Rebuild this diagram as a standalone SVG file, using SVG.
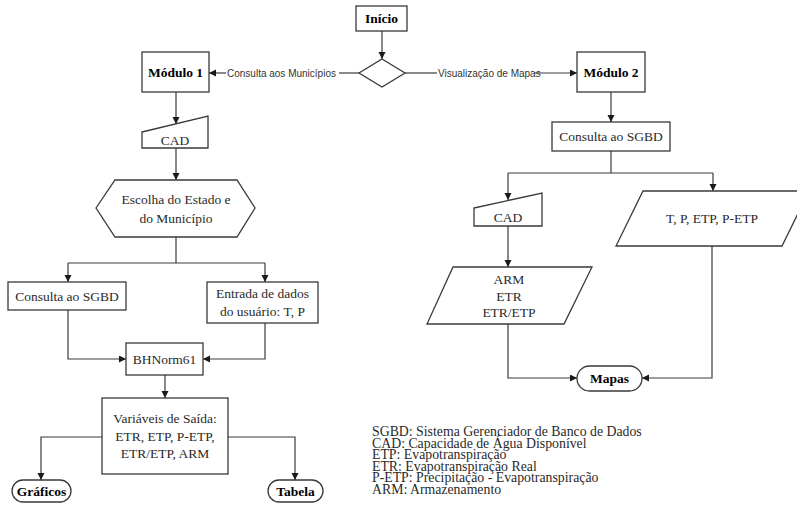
<svg xmlns="http://www.w3.org/2000/svg" width="797" height="524" viewBox="0 0 797 524">
<defs>
<marker id="arr" markerUnits="userSpaceOnUse" markerWidth="8" markerHeight="8" refX="7" refY="3.5" orient="auto">
<path d="M0,0 L7,3.5 L0,7 Z" fill="#1a1a1a"/>
</marker>
<style>
.s{fill:#fff;stroke:#3a3a3a;stroke-width:1.3}
.c{fill:none;stroke:#3a3a3a;stroke-width:1.2}
.t{font-family:"Liberation Serif","Times New Roman",serif;font-size:13.5px;fill:#2a2a2a;text-anchor:middle}
.b{font-family:"Liberation Serif","Times New Roman",serif;font-size:13.5px;font-weight:bold;fill:#000;text-anchor:middle}
.l{font-family:"Liberation Sans",Arial,sans-serif;font-size:10px;fill:#333}
.g{font-family:"Liberation Serif","Times New Roman",serif;font-size:13.8px;fill:#2a2a2a}
</style>
</defs>
<rect width="797" height="524" fill="#fff"/>
<g id="connectors">
<path class="c" d="M382,31 V59" marker-end="url(#arr)"/>
<path class="c" d="M359,73 H339"/>
<path class="c" d="M226,73 H209" marker-end="url(#arr)"/>
<path class="c" d="M405,73 H437"/>
<path class="c" d="M534,73 H577" marker-end="url(#arr)"/>
<text class="l" x="227" y="76.5">Consulta aos Municípios</text>
<text class="l" x="438" y="76.5">Visualização de Mapas</text>
<path class="c" d="M176,92 V124" marker-end="url(#arr)"/>
<path class="c" d="M176,148 V180" marker-end="url(#arr)"/>
<path class="c" d="M176,237 V263"/>
<path class="c" d="M68,263 H265"/>
<path class="c" d="M68,263 V282" marker-end="url(#arr)"/>
<path class="c" d="M265,263 V282" marker-end="url(#arr)"/>
<path class="c" d="M68,310 V359 H126" marker-end="url(#arr)"/>
<path class="c" d="M265,323 V359 H203" marker-end="url(#arr)"/>
<path class="c" d="M165,375 V398" marker-end="url(#arr)"/>
<path class="c" d="M102,437 H41 V480" marker-end="url(#arr)"/>
<path class="c" d="M228,437 H295 V480" marker-end="url(#arr)"/>
<path class="c" d="M611,92 V122" marker-end="url(#arr)"/>
<path class="c" d="M611,151 V173"/>
<path class="c" d="M508,173 H713"/>
<path class="c" d="M508,173 V200" marker-end="url(#arr)"/>
<path class="c" d="M713,173 V191" marker-end="url(#arr)"/>
<path class="c" d="M508,226 V267" marker-end="url(#arr)"/>
<path class="c" d="M508,324 V378 H577" marker-end="url(#arr)"/>
<path class="c" d="M712,246 V378 H642" marker-end="url(#arr)"/>
</g>
<g id="inicio"><rect class="s" x="356" y="6" width="51" height="25"/><text class="b" x="381.5" y="23">Início</text></g>
<g id="decisao"><polygon class="s" points="382,59 405,73 382,87 359,73"/></g>
<g id="modulo1"><rect class="s" x="142" y="52" width="67" height="40"/><text class="b" x="175.5" y="77">Módulo 1</text></g>
<g id="modulo2"><rect class="s" x="577" y="52" width="68" height="40"/><text class="b" x="611" y="77">Módulo 2</text></g>
<g id="cad1"><polygon class="s" points="142,132 208,116 208,148 142,148"/><text class="t" x="175" y="144.5">CAD</text></g>
<g id="escolha"><polygon class="s" points="96,208 115,180 237,180 255,208 237,237 115,237"/><text class="t" x="176" y="203.5">Escolha do Estado e</text><text class="t" x="176" y="222.5">do Município</text></g>
<g id="sgbd1"><rect class="s" x="8" y="282" width="118" height="28"/><text class="t" x="67" y="300.5">Consulta ao SGBD</text></g>
<g id="entrada"><rect class="s" x="207" y="282" width="111" height="41"/><text class="t" x="262.5" y="298">Entrada de dados</text><text class="t" x="262.5" y="315.5">do usuário: T, P</text></g>
<g id="bhnorm"><rect class="s" x="126" y="343" width="77" height="32"/><text class="t" x="164.5" y="363.5">BHNorm61</text></g>
<g id="saida"><rect class="s" x="102" y="398" width="126" height="76"/><text class="t" x="165" y="423">Variáveis de Saída:</text><text class="t" x="165" y="440.5">ETR, ETP, P-ETP,</text><text class="t" x="165" y="458">ETR/ETP, ARM</text></g>
<g id="graficos"><rect class="s" x="12" y="480" width="59" height="22" rx="11"/><text class="b" x="41.5" y="495.5">Gráficos</text></g>
<g id="tabela"><rect class="s" x="268" y="480" width="55" height="22" rx="11"/><text class="b" x="295.5" y="495.5">Tabela</text></g>
<g id="sgbd2"><rect class="s" x="552" y="122" width="118" height="29"/><text class="t" x="611" y="141">Consulta ao SGBD</text></g>
<g id="cad2"><polygon class="s" points="474,208 542,193 542,226 474,226"/><text class="t" x="508" y="221.5">CAD</text></g>
<g id="tpetp"><polygon class="s" points="643,191 809,191 782,246 616,246"/><text class="t" x="712" y="222.5">T, P, ETP, P-ETP</text></g>
<g id="arm"><polygon class="s" points="453,267 592,267 564,324 427,324"/><text class="t" x="509" y="284">ARM</text><text class="t" x="509" y="300.5">ETR</text><text class="t" x="509" y="317">ETR/ETP</text></g>
<g id="mapas"><rect class="s" x="577" y="366" width="65" height="25" rx="12.5"/><text class="b" x="609.5" y="383">Mapas</text></g>
<g id="legenda">
<text class="g" x="372" y="436">SGBD: Sistema Gerenciador de Banco de Dados</text>
<text class="g" x="372" y="447.6">CAD: Capacidade de Água Disponível</text>
<text class="g" x="372" y="459.2">ETP: Evapotranspiração</text>
<text class="g" x="372" y="470.8">ETR: Evapotranspiração Real</text>
<text class="g" x="372" y="482.4">P-ETP: Precipitação - Evapotranspiração</text>
<text class="g" x="372" y="494">ARM: Armazenamento</text>
</g>
</svg>
